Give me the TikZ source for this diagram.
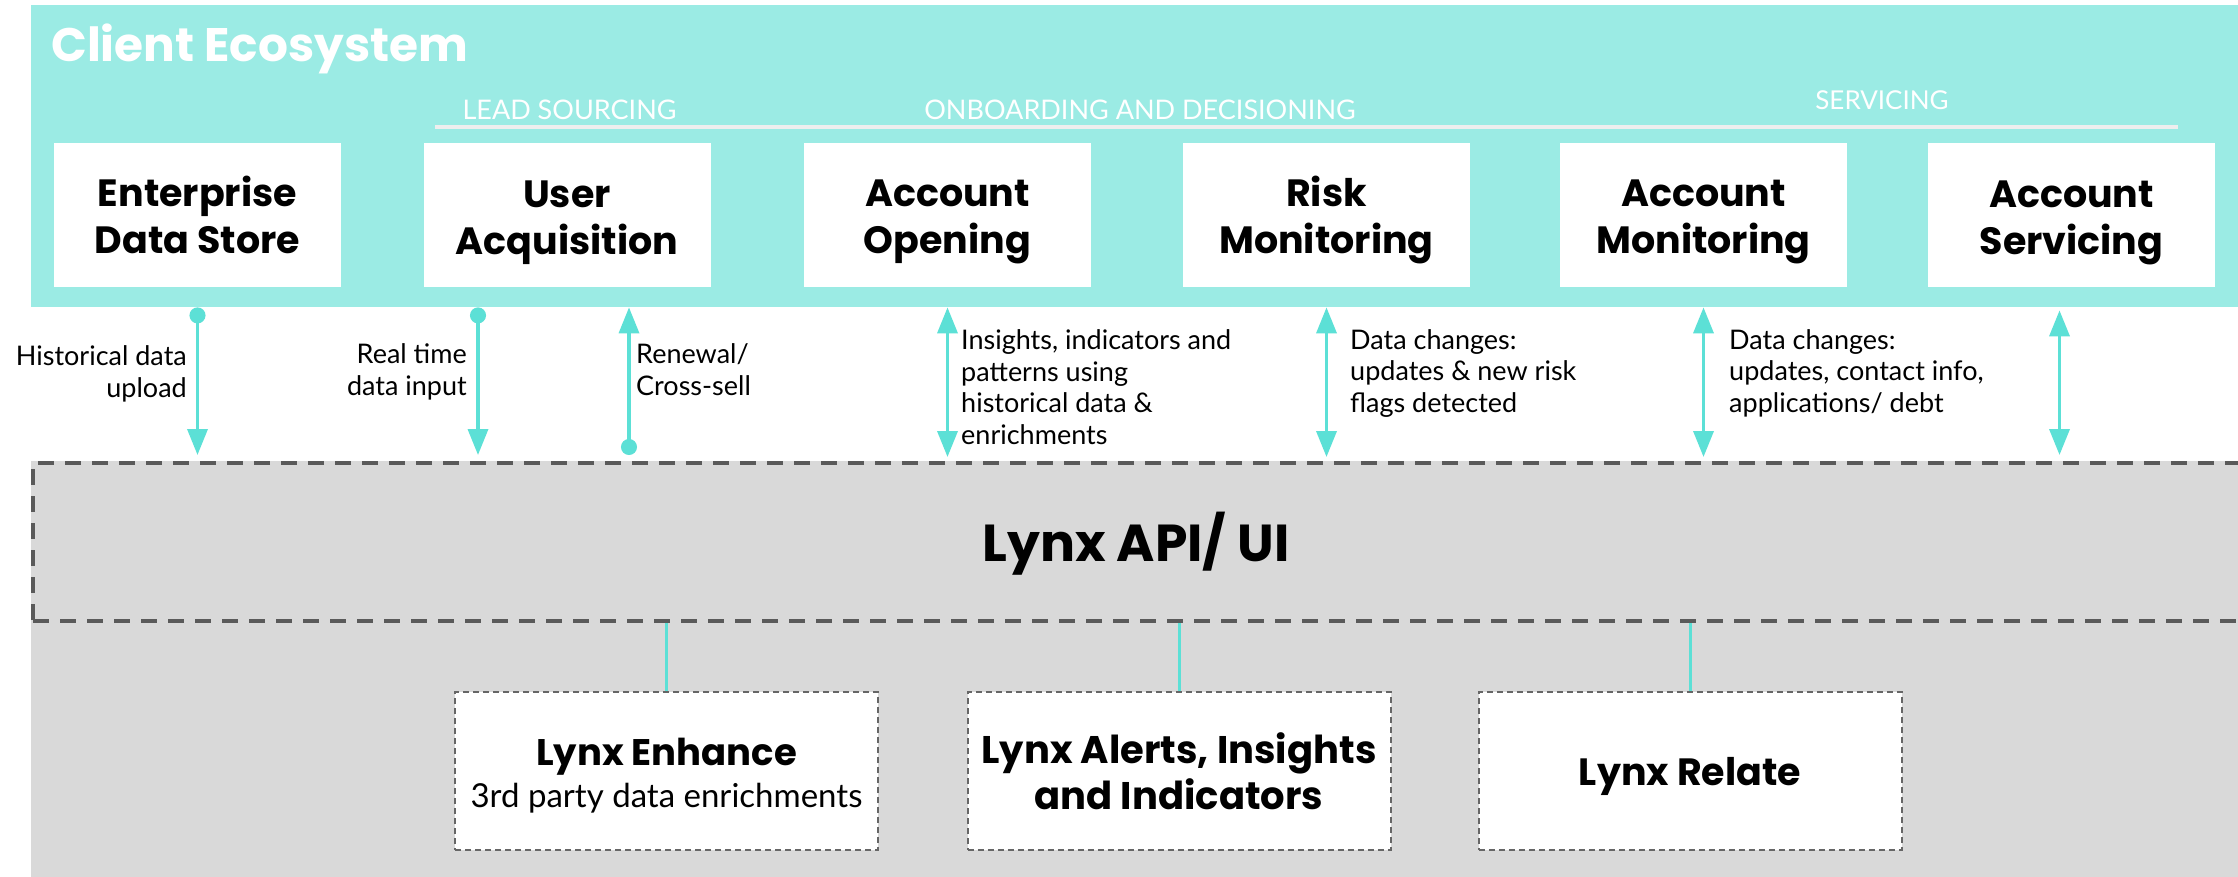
\documentclass[tikz,border=0pt]{standalone}
\usepackage{fontspec}
\setmainfont{Lato}
\newfontfamily\popfont{Poppins}
\usetikzlibrary{arrows.meta}
\definecolor{ecoteal}{HTML}{9BEBE4}
\definecolor{arrteal}{HTML}{5CE0D6}
\definecolor{apigray}{HTML}{D9D9D9}
\definecolor{dashgray}{HTML}{5A5A5A}
\definecolor{boxdash}{HTML}{666666}
\definecolor{stageline}{HTML}{EEEEEE}
\begin{document}
\begin{tikzpicture}[x=1pt,y=-1pt,
  topbox/.style={fill=white, minimum width=287pt, minimum height=144pt, inner sep=0pt,
    text height=88pt, text depth=10pt,
    align=center, font=\popfont\bfseries\fontsize{38}{47}\selectfont},
  lowbox/.style={fill=white, draw=boxdash, line width=2pt, dash pattern=on 6pt off 4pt,
    minimum width=423pt, minimum height=158pt, inner sep=0pt, align=center},
  boldtxt/.style={font=\popfont\bfseries\fontsize{38.5}{46}\selectfont},
  lbl/.style={inner sep=0pt, font=\fontsize{27}{31.5}\selectfont, text=black},
  stagelbl/.style={inner sep=0pt, anchor=base, text=white, font=\fontsize{27}{30}\selectfont},
  flow/.style={draw=arrteal, line width=3.5pt},
  conn/.style={draw=arrteal, line width=3pt}
]
\clip (0,0) rectangle (2238,877);
\fill[white] (0,0) rectangle (2238,877);
% ecosystem
\node[fill=ecoteal, minimum width=2230pt, minimum height=302pt, inner sep=0pt, anchor=north west] (eco) at (31,5) {};
\node[anchor=base west, inner sep=0pt, text=white, font=\popfont\bfseries\fontsize{47}{56}\selectfont] (title) at (51,62) {Client Ecosystem};
% stage line and labels
\draw[stageline, line width=4pt] (435,127) -- (2178,127);
\node[stagelbl] (lead) at (569.5,120) {LEAD SOURCING};
\node[stagelbl] (onb) at (1140,120) {ONBOARDING AND DECISIONING};
\node[stagelbl, font=\fontsize{26}{30}\selectfont] (serv) at (1882,110) {SERVICING};
% top boxes
\node[topbox] (eds) at (197.5,215) {Enterprise\\Data Store};
\node[topbox] (ua) at (567,215.5) {User\\Acquisition};
\node[topbox] (ao) at (947.5,215) {Account\\Opening};
\node[topbox] (rm) at (1326.5,215) {Risk\\Monitoring};
\node[topbox] (am) at (1703.5,215) {Account\\Monitoring};
\node[topbox] (as) at (2071.5,215.5) {Account\\Servicing};
% API area
\fill[apigray] (31,461) rectangle (2238,877);
\node[draw=dashgray, line width=4pt, dash pattern=on 16pt off 11pt, minimum width=2240pt, minimum height=158pt,
  inner sep=0pt, anchor=north west] (api) at (31,461) {};
\node[anchor=base, inner sep=0pt, font=\popfont\bfseries\fontsize{52}{60}\selectfont] (apitxt) at (1136,561) {Lynx API/ UI};
% lower boxes
\node[lowbox, font=\fontsize{33}{42}\selectfont, text height=76pt, text depth=4pt] (enh) at (666.5,771) {{\popfont\bfseries\fontsize{37}{42}\selectfont Lynx Enhance}\\3rd party data enrichments};
\node[lowbox, boldtxt] (ali) at (1179,771) {Lynx Alerts, Insights\\and Indicators};
\node[lowbox, font=\popfont\bfseries\fontsize{38}{46}\selectfont, text height=30pt, text depth=2pt] (rel) at (1690,771) {Lynx Relate};
\draw[conn] (enh.north |- api.south) -- (enh.north);
\draw[conn] (ali.north |- api.south) -- (ali.north);
\draw[conn] (rel.north |- api.south) -- (rel.north);
% arrow anchors
\coordinate (ua1) at ([xshift=-89pt]ua.south);
\coordinate (ua2) at ([xshift=62pt]ua.south);
\coordinate (as1) at ([xshift=-12pt]as.south);
% arrows
\draw[flow, {Circle[length=16pt]}-{Triangle[width=20pt,length=26pt]}, shorten >=6pt] (eds.south |- eco.south) -- (eds.south |- api.north);
\draw[flow, {Circle[length=16pt]}-{Triangle[width=20pt,length=26pt]}, shorten >=6pt] (ua1 |- eco.south) -- (ua1 |- api.north);
\draw[flow, {Triangle[width=20pt,length=26pt]}-{Circle[length=16pt]}, shorten >=6pt] (ua2 |- eco.south) -- (ua2 |- api.north);
\draw[flow, {Triangle[width=20pt,length=26pt]}-{Triangle[width=20pt,length=26pt]}, shorten >=4pt] (ao.south |- eco.south) -- (ao.south |- api.north);
\draw[flow, {Triangle[width=20pt,length=26pt]}-{Triangle[width=20pt,length=26pt]}, shorten >=4pt] (rm.south |- eco.south) -- (rm.south |- api.north);
\draw[flow, {Triangle[width=20pt,length=26pt]}-{Triangle[width=20pt,length=26pt]}, shorten >=4pt] (am.south |- eco.south) -- (am.south |- api.north);
\draw[flow, {Triangle[width=20pt,length=26pt]}-{Triangle[width=20pt,length=26pt]}, shorten <=3pt, shorten >=6pt] (as1 |- eco.south) -- (as1 |- api.north);
% labels (base anchor = baseline of last line)
\node[lbl, anchor=base east, align=right] (l1) at (187,397) {Historical data\\upload};
\node[lbl, anchor=base east, align=right] (l2) at (467,395) {Real time\\data input};
\node[lbl, anchor=base west, align=left] (l3) at (636,395) {Renewal/\\Cross-sell};
\node[lbl, anchor=base west, align=left] (l4) at (961,444) {Insights, indicators and\\patterns using\\historical data \&\\enrichments};
\node[lbl, anchor=base west, align=left] (l5) at (1350,412) {Data changes:\\updates \& new risk\\flags detected};
\node[lbl, anchor=base west, align=left] (l6) at (1729,412) {Data changes:\\updates, contact info,\\applications/ debt};
\end{tikzpicture}
\end{document}
